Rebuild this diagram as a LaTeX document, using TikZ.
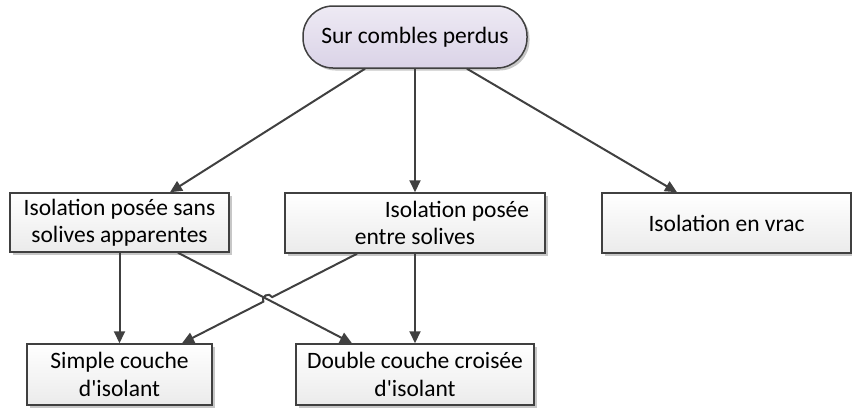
\documentclass[tikz,border=0pt]{standalone}
\usepackage{fontspec}
\setmainfont{Carlito}
\usetikzlibrary{arrows.meta,shadows,calc}
\definecolor{linec}{HTML}{404040}
\definecolor{pilltop}{HTML}{EEEAF4}
\definecolor{pillbot}{HTML}{DAD3E7}
\definecolor{boxtop}{HTML}{FFFFFF}
\definecolor{boxbot}{HTML}{EBEBEB}
\tikzset{
  boxst/.style={draw=linec, line width=1.5pt, top color=boxtop, bottom color=boxbot,
    drop shadow={shadow xshift=2.5pt, shadow yshift=-2.5pt, fill=gray!55, opacity=0.8},
    inner sep=0pt, align=center, font=\fontsize{23.5}{27.5}\selectfont},
  pillst/.style={boxst, top color=pilltop, bottom color=pillbot, rounded corners=30pt},
  conn/.style={draw=linec, line width=2pt, -{Triangle[length=12pt,width=11pt]}}
}
\begin{document}
\begin{tikzpicture}[x=1pt,y=-1pt]
\useasboundingbox (0,0) rectangle (852,408);
\node[pillst, minimum width=224pt, minimum height=62pt] (top) at (415,37) {Sur combles perdus};
\node[boxst, minimum width=219pt, minimum height=59pt] (b1) at (119.5,222.5) {Isolation posée sans\\solives apparentes};
\node[boxst, minimum width=260pt, minimum height=60pt] (b2) at (415,223) {\hspace*{84pt}Isolation posée\\entre solives};
\node[boxst, minimum width=249pt, minimum height=60pt] (b3) at (726.5,223) {Isolation en vrac};
\node[boxst, minimum width=185pt, minimum height=61pt] (b4) at (119.5,374.5) {Simple couche\\d\textquotesingle isolant};
\node[boxst, minimum width=238pt, minimum height=61pt] (b5) at (415,374.5) {Double couche croisée\\d\textquotesingle isolant};
\draw[conn] ([xshift=-50pt]top.south) -- ([xshift=50.5pt]b1.north);
\draw[conn] (top.south) -- (b2.north);
\draw[conn] ([xshift=52pt]top.south) -- ([xshift=-49.5pt]b3.north);
\draw[conn] (b1.south) -- (b1.south |- b4.north);
\draw[conn] ([xshift=58.5pt]b1.south) -- ([xshift=-63pt]b5.north);
\coordinate (h1) at (272.2,297.1);
\coordinate (h2) at (263.3,301.7);
\draw[conn] ([xshift=-58pt]b2.south) -- (h1) .. controls (269.4,291.8) and (260.5,296.4) .. (h2) -- ([xshift=62.5pt]b4.north);
\draw[conn] (b2.south) -- (b5.north);
\end{tikzpicture}
\end{document}
